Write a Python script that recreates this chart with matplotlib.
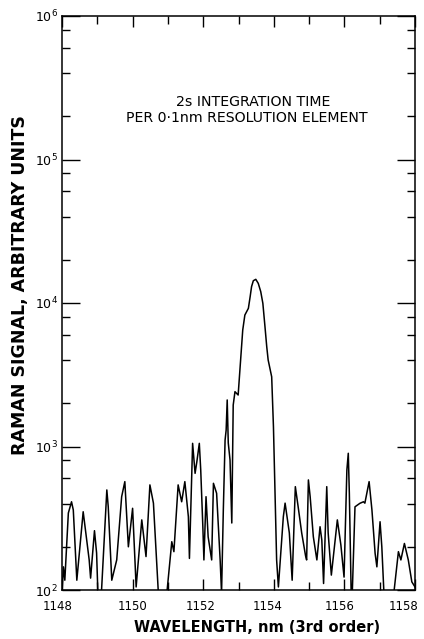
import numpy as np
import matplotlib
matplotlib.use("Agg")
import matplotlib.pyplot as plt
import matplotlib.transforms as mtransforms
from matplotlib.ticker import MultipleLocator, LogLocator, NullFormatter, FixedLocator

# Raman line scan, 3rd order, 2 s per 0.1 nm step
wavelength = [
    1148.00, 1148.04, 1148.08, 1148.18, 1148.27, 1148.32, 1148.42, 1148.60,
    1148.77, 1148.81, 1148.92, 1148.98, 1149.02, 1149.10, 1149.27, 1149.31,
    1149.41, 1149.55, 1149.69, 1149.78, 1149.88, 1150.00, 1150.07, 1150.10,
    1150.26, 1150.38, 1150.49, 1150.59, 1150.73, 1150.85, 1150.97, 1151.11,
    1151.17, 1151.29, 1151.39, 1151.48, 1151.58, 1151.61, 1151.70, 1151.77,
    1151.82, 1151.89, 1151.93, 1151.99, 1152.02, 1152.08, 1152.14, 1152.24,
    1152.29, 1152.38, 1152.48, 1152.52, 1152.57, 1152.62, 1152.65, 1152.68,
    1152.71, 1152.76, 1152.81, 1152.85, 1152.90, 1152.99, 1153.06, 1153.12,
    1153.18, 1153.28, 1153.33, 1153.37, 1153.42, 1153.49, 1153.56, 1153.63,
    1153.69, 1153.75, 1153.80, 1153.84, 1153.94, 1153.99, 1154.08, 1154.13,
    1154.27, 1154.32, 1154.44, 1154.52, 1154.61, 1154.69, 1154.79, 1154.90,
    1154.93, 1154.98, 1155.03, 1155.12, 1155.22, 1155.31, 1155.36, 1155.41,
    1155.50, 1155.54, 1155.63, 1155.80, 1155.90, 1155.99, 1156.07, 1156.11,
    1156.14, 1156.19, 1156.22, 1156.30, 1156.44, 1156.54, 1156.58, 1156.70,
    1156.78, 1156.87, 1156.92, 1157.01, 1157.06, 1157.12, 1157.25, 1157.40,
    1157.53, 1157.60, 1157.70, 1157.81, 1157.91, 1158.00,
]
signal = [
    95, 145, 117, 344, 412, 361, 117, 351,
    162, 121, 259, 181, 90, 80, 498, 380,
    117, 162, 447, 569, 200, 371, 154, 105,
    308, 171, 540, 403, 95, 70, 95, 217,
    185, 540, 412, 569, 324, 166, 1052, 650,
    783, 1052, 686, 276, 162, 447, 235, 162,
    554, 472, 162, 95, 361, 1110, 1300, 2110,
    1060, 805, 293, 1945, 2410, 2285, 4010, 6480,
    8240, 9180, 11070, 13000, 14300, 14620, 13700, 12000,
    9950, 6840, 4960, 4010, 3060, 1374, 162, 105,
    324, 403, 250, 117, 525, 380, 250, 173,
    162, 585, 447, 235, 162, 276, 223, 111,
    525, 250, 127, 308, 206, 123, 686, 897,
    472, 100, 90, 380, 402, 412, 403, 569,
    361, 180, 145, 299, 200, 95, 70, 95,
    185, 162, 211, 162, 114, 105,
]

x_ticks = [1148, 1150, 1152, 1154, 1156, 1158]
x_tick_labels = ["1148", "1150", "1152", "1154", "1156", "1158"]
note_lines = ["2s INTEGRATION TIME", "PER 0·1nm RESOLUTION ELEMENT"]

fig = plt.figure(figsize=(4.24, 6.39), dpi=100)
ax = fig.add_axes([62 / 424, 1 - 590 / 639, 353 / 424, 574 / 639])

ax.plot(wavelength, signal, color="black", lw=1.1)

ax.set_yscale("log")
ax.set_xlim(1148, 1158)
ax.set_ylim(1e2, 1e6)

ax.xaxis.set_major_locator(FixedLocator(x_ticks))
ax.xaxis.set_minor_locator(MultipleLocator(1))
ax.xaxis.set_major_formatter(NullFormatter())
ax.yaxis.set_major_locator(FixedLocator([1e2, 1e3, 1e4, 1e5, 1e6]))
ax.yaxis.set_minor_locator(LogLocator(base=10, subs=(2, 4, 6, 8)))
ax.yaxis.set_minor_formatter(NullFormatter())
ax.yaxis.set_major_formatter(plt.FuncFormatter(lambda v, p: r"$10^{%d}$" % round(np.log10(v))))

ax.tick_params(axis="x", which="both", direction="in", top=True, bottom=True, width=1.0)
ax.tick_params(axis="x", which="major", length=8)
ax.tick_params(axis="x", which="minor", length=6)
ax.tick_params(axis="y", which="both", direction="in", left=True, right=True,
               width=1.0, labelsize=9, pad=3)
ax.tick_params(axis="y", which="major", length=13)
ax.tick_params(axis="y", which="minor", length=6)

for s in ax.spines.values():
    s.set_linewidth(1.1)

# hand-lettered wavelength labels sit a little left of their ticks
label_shift_px = [-4, 0, -3, -6, -5, -11]
xlab_trans = mtransforms.blended_transform_factory(ax.transData, ax.transAxes)
for xv, txt, dx in zip(x_ticks, x_tick_labels, label_shift_px):
    off = mtransforms.ScaledTranslation(dx / 100, -16 / 100, fig.dpi_scale_trans)
    ax.text(xv, 0, txt, transform=xlab_trans + off, ha="center", va="center",
            fontsize=8.5, clip_on=False)

ax.text(0.541, 0.851, note_lines[0], transform=ax.transAxes,
        ha="center", va="center", fontsize=10.2)
ax.text(0.523, 0.822, note_lines[1], transform=ax.transAxes,
        ha="center", va="center", fontsize=10.2)

fig.text(20 / 424, 1 - 285 / 639, "RAMAN SIGNAL, ARBITRARY UNITS",
         rotation=90, ha="center", va="center", fontsize=12.5, fontweight="bold")
fig.text(257 / 424, 1 - 627 / 639, "WAVELENGTH, nm (3rd order)",
         ha="center", va="center", fontsize=10.5, fontweight="bold")

fig.savefig("out.png", dpi=100)
